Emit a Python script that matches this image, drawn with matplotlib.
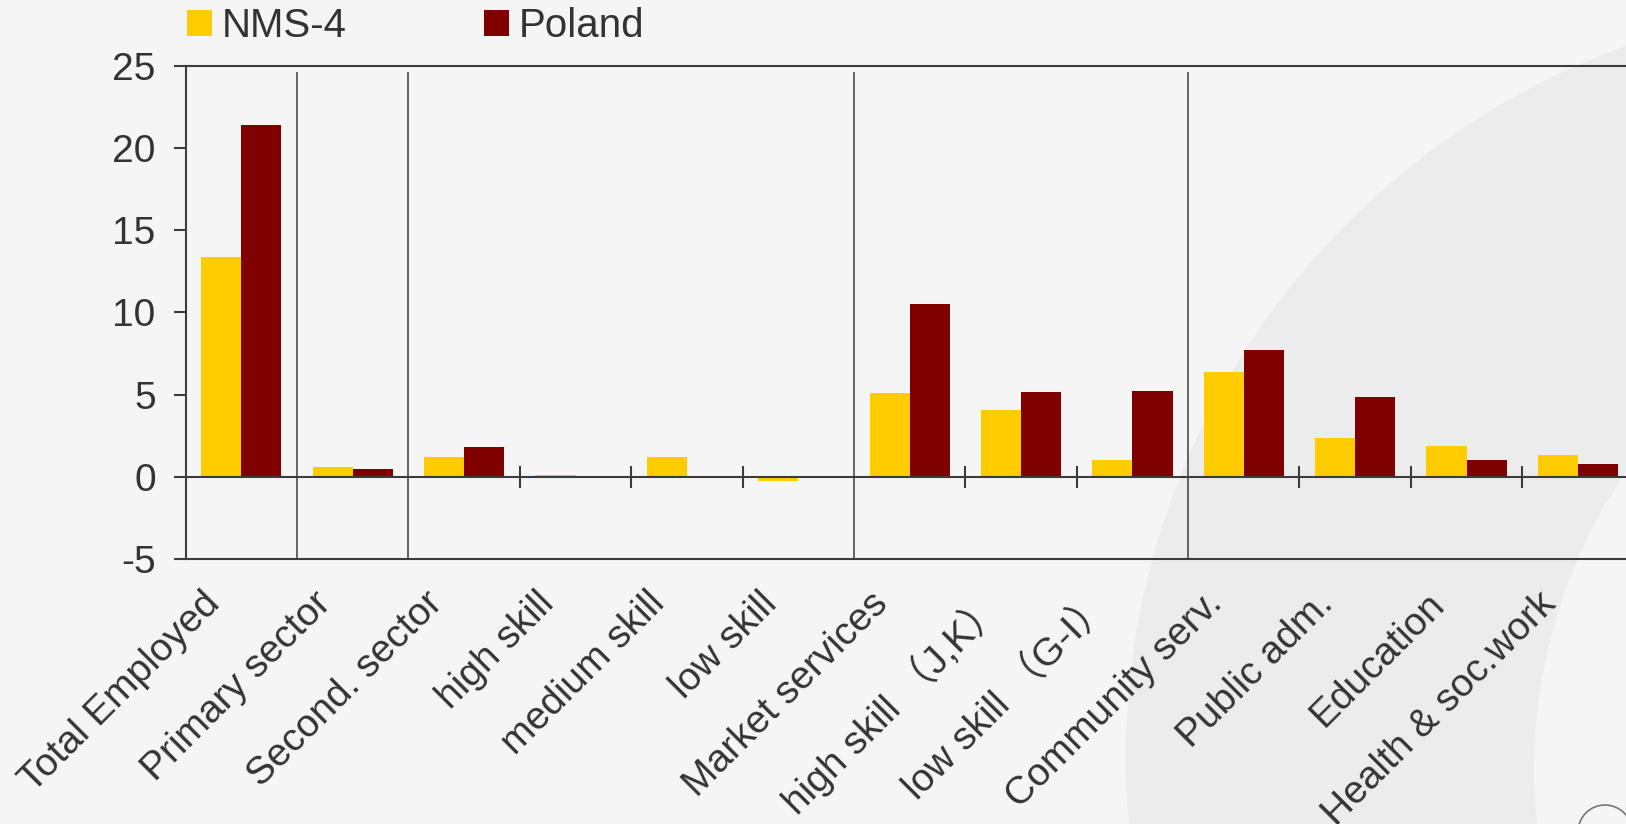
import numpy as np
import matplotlib
import matplotlib.pyplot as plt
import matplotlib.transforms as mtransforms
from matplotlib.patches import Circle

plt.rcParams['font.family'] = ['Liberation Sans', 'Noto Sans CJK SC', 'DejaVu Sans']
plt.rcParams['axes.unicode_minus'] = False

# data
categories = ['Total Employed', 'Primary sector', 'Second. sector', 'high skill',
              'medium skill', 'low skill', 'Market services', 'high skill （J,K）',
              'low skill （G-I）', 'Community serv.', 'Public adm.', 'Education',
              'Health & soc.work']
nms4 = [13.4, 0.6, 1.2, 0.1, 1.2, -0.25, 5.1, 4.05, 1.05, 6.4, 2.35, 1.9, 1.3]
poland = [21.4, 0.45, 1.8, 0, 0, 0, 10.5, 5.15, 5.25, 7.7, 4.85, 1.0, 0.75]
series_names = ['NMS-4', 'Poland']
yticks = [-5, 0, 5, 10, 15, 20, 25]
group_ends = [0, 1, 5, 8]  # a full-height divider after these categories

bg = '#f5f5f5'
dark = '#3c3c3c'
txt = '#333333'

fig = plt.figure(figsize=(16.26, 8.24), dpi=100, facecolor=bg)

# background crescent
fig.add_artist(Circle((18.83, 0.66), 7.57, transform=fig.dpi_scale_trans,
                      facecolor='#ececec', edgecolor='none', zorder=-3))
fig.add_artist(Circle((20.65, 0.54), 5.31, transform=fig.dpi_scale_trans,
                      facecolor=bg, edgecolor='none', zorder=-2))
fig.add_artist(Circle((16.05, -0.08), 0.27, transform=fig.dpi_scale_trans,
                      facecolor='none', edgecolor='#777777', lw=1.2, zorder=-1))

ax = fig.add_axes([0.1142, 0.3216, 0.8905, 0.5984])
ax.set_facecolor('none')

x = np.arange(len(categories))
w = 0.36
ax.bar(x - w / 2, nms4, w, color='#FFCC00', label=series_names[0], zorder=2)
ax.bar(x + w / 2, poland, w, color='#800000', label=series_names[1], zorder=2)

ax.set_xlim(-0.5, len(categories) - 0.5)
ax.set_ylim(-5, 25)

ax.axhline(0, color=dark, lw=1.5, zorder=3)
bounds = x[:-1] + 0.5
for i, b in zip(x[:-1], bounds):
    if i in group_ends:
        ax.vlines(b, -5, 24.6, color=dark, lw=1.1, zorder=3)
    else:
        ax.vlines(b, -0.65, 0.65, color=dark, lw=1.5, zorder=3)

for s in ['top', 'bottom', 'left']:
    ax.spines[s].set_color(dark)
    ax.spines[s].set_linewidth(1.5)
ax.spines['right'].set_visible(False)

ax.set_yticks(yticks)
ax.set_yticklabels([str(v) for v in yticks])
ax.tick_params(axis='y', length=8.6, width=1.5, color=dark, pad=13,
               labelsize=28, labelcolor=txt)

ax.set_xticks(x)
ax.set_xticklabels(categories, rotation=45, ha='right', va='top',
                   rotation_mode='anchor')
ax.tick_params(axis='x', length=0, pad=19, labelsize=28, labelcolor=txt)
off = mtransforms.ScaledTranslation(-0.4, 0, fig.dpi_scale_trans)
for lab in ax.get_xticklabels():
    lab.set_transform(lab.get_transform() + off)

ax.legend(loc='lower left', bbox_to_anchor=(0.115, 0.945), bbox_transform=fig.transFigure,
          ncol=2, frameon=False, fontsize=29, handlelength=0.62, handleheight=0.62,
          handletextpad=0.25, columnspacing=3.4, labelcolor=txt,
          borderpad=0, borderaxespad=0)

fig.savefig('out.png', dpi=100, facecolor=bg)
